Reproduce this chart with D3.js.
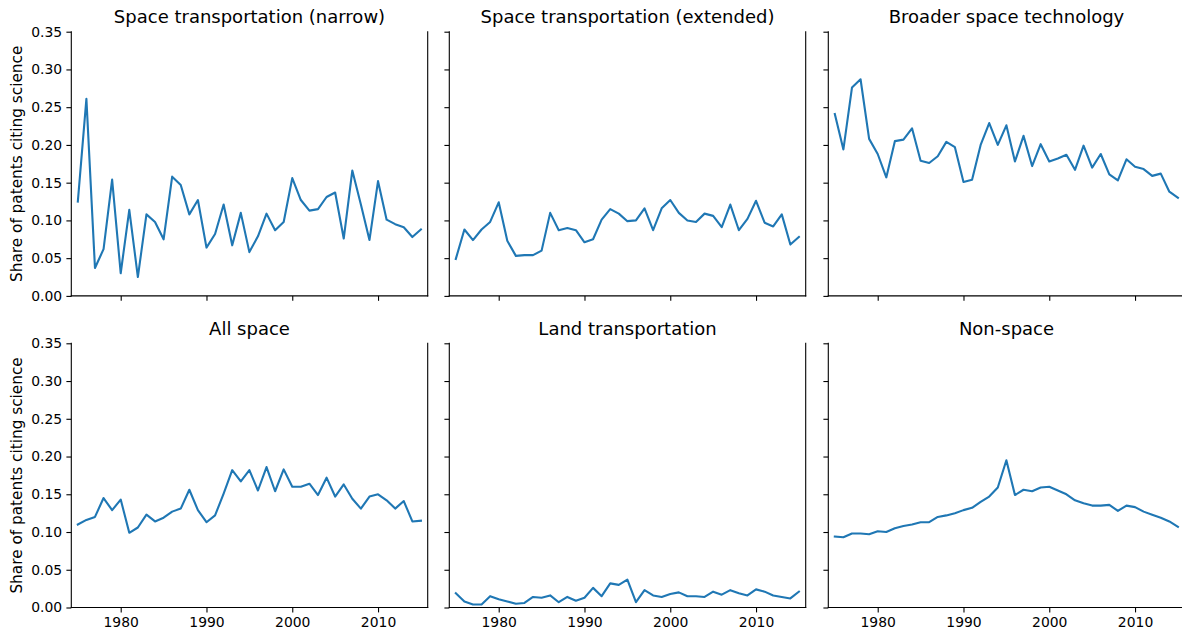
<!DOCTYPE html>
<html>
<head>
<meta charset="utf-8">
<script src="https://cdn.jsdelivr.net/npm/d3@7"></script>
<style>
  html, body { margin: 0; padding: 0; background: #fff; }
  svg { display: block; font-family: "DejaVu Sans", sans-serif; }
</style>
</head>
<body>
<svg id="chart" width="1182" height="632"></svg>
<script>
// Years covered by every series
const years = d3.range(1975, 2016);

// Share of patents citing science, one array per technology group
const spaceNarrow = [0.125,0.261,0.037,0.062,0.154,0.030,0.114,0.025,0.108,0.098,0.075,0.158,0.147,0.108,0.127,0.064,0.082,0.121,0.067,0.110,0.058,0.079,0.109,0.087,0.098,0.156,0.127,0.113,0.115,0.131,0.137,0.076,0.166,0.121,0.074,0.152,0.101,0.095,0.091,0.078,0.088];
const spaceExtended = [0.049,0.088,0.074,0.088,0.098,0.124,0.073,0.053,0.054,0.054,0.060,0.110,0.087,0.090,0.087,0.071,0.075,0.101,0.115,0.109,0.099,0.100,0.116,0.087,0.116,0.127,0.110,0.100,0.098,0.109,0.106,0.091,0.121,0.087,0.102,0.126,0.097,0.092,0.108,0.068,0.078];
const broaderSpace = [0.241,0.194,0.276,0.287,0.208,0.188,0.157,0.205,0.207,0.222,0.179,0.176,0.185,0.204,0.197,0.151,0.154,0.200,0.229,0.200,0.226,0.178,0.212,0.172,0.201,0.178,0.182,0.187,0.167,0.199,0.170,0.188,0.161,0.153,0.181,0.171,0.168,0.159,0.162,0.138,0.130];
const allSpace = [0.110,0.116,0.120,0.145,0.129,0.143,0.099,0.106,0.123,0.114,0.119,0.127,0.131,0.156,0.129,0.113,0.122,0.151,0.182,0.167,0.182,0.155,0.186,0.154,0.183,0.160,0.160,0.164,0.149,0.172,0.147,0.163,0.144,0.131,0.147,0.150,0.142,0.131,0.141,0.114,0.115];
const landTransport = [0.019,0.008,0.004,0.004,0.015,0.011,0.008,0.005,0.006,0.014,0.013,0.016,0.007,0.014,0.009,0.013,0.026,0.015,0.032,0.030,0.037,0.007,0.023,0.016,0.014,0.018,0.020,0.015,0.015,0.014,0.021,0.017,0.023,0.019,0.016,0.024,0.021,0.016,0.014,0.012,0.021];
const nonSpace = [0.094,0.093,0.098,0.098,0.097,0.101,0.100,0.105,0.108,0.110,0.113,0.113,0.120,0.122,0.125,0.129,0.132,0.140,0.147,0.159,0.195,0.149,0.156,0.154,0.159,0.160,0.155,0.150,0.142,0.138,0.135,0.135,0.136,0.128,0.135,0.133,0.127,0.123,0.119,0.114,0.107];

const panelTitles = ["Space transportation (narrow)", "Space transportation (extended)", "Broader space technology", "All space", "Land transportation", "Non-space"];
const panelSeries = [spaceNarrow, spaceExtended, broaderSpace, allSpace, landTransport, nonSpace];

const xTicks = [1980, 1990, 2000, 2010];
const yTicks = [0, 0.05, 0.10, 0.15, 0.20, 0.25, 0.30, 0.35];
const yLabel = "Share of patents citing science";

// Grid geometry
const colLeft = [71.3, 449.3, 828.3];
const rowTop = [31.7, 343.3];
const panelW = 356.4;
const panelH = 264.2;

const svg = d3.select("#chart");
const lineColor = "#1f77b4";
const fontTick = 13.9;
const fontLabel = 15.3;
const fontTitle = 18;

panelSeries.forEach((series, i) => {
  const col = i % 3, row = Math.floor(i / 3);
  const g = svg.append("g").attr("transform", `translate(${colLeft[col]},${rowTop[row]})`);

  const x = d3.scaleLinear().domain([1974.24, 2015.79]).range([0, panelW]);
  const y = d3.scaleLinear().domain([0, 0.35]).range([panelH, 0]);

  // Data line
  const line = d3.line().x((d, k) => x(years[k])).y(d => y(d));
  g.append("path")
    .datum(series)
    .attr("d", line)
    .attr("fill", "none")
    .attr("stroke", lineColor)
    .attr("stroke-width", 2.1)
    .attr("stroke-linejoin", "round")
    .attr("stroke-linecap", "square");

  // Bottom axis
  const xAxis = d3.axisBottom(x).tickValues(xTicks).tickSize(4.9).tickPadding(4.2)
    .tickFormat(row === 1 ? d3.format("d") : () => "");
  const gx = g.append("g").attr("transform", `translate(0,${panelH})`).call(xAxis);

  // Left axis
  const yAxis = d3.axisLeft(y).tickValues(yTicks).tickSize(4.9).tickPadding(4.2)
    .tickFormat(col === 0 ? d3.format(".2f") : () => "");
  const gy = g.append("g").call(yAxis);

  [gx, gy].forEach(a => {
    a.select(".domain").remove();
    a.selectAll(".tick line").attr("stroke", "#000").attr("stroke-width", 1.1);
    a.selectAll(".tick text").attr("font-size", fontTick).attr("fill", "#000")
      .attr("font-family", "DejaVu Sans, sans-serif");
  });
  gx.selectAll(".tick text").attr("dy", "0.72em");

  // Spines: left, bottom and right
  const spine = [[0, 0, 0, panelH], [0, panelH, panelW, panelH], [panelW, 0, panelW, panelH]];
  spine.forEach(s => {
    g.append("line")
      .attr("x1", s[0]).attr("y1", s[1]).attr("x2", s[2]).attr("y2", s[3])
      .attr("stroke", "#000").attr("stroke-width", 1.1).attr("stroke-linecap", "square");
  });

  // Title
  g.append("text")
    .attr("x", panelW / 2).attr("y", -8.3)
    .attr("text-anchor", "middle")
    .attr("font-size", fontTitle)
    .attr("fill", "#000")
    .text(panelTitles[i]);

  // Y axis label on the first column
  if (col === 0) {
    g.append("text")
      .attr("transform", `translate(${-49.8},${panelH / 2}) rotate(-90)`)
      .attr("text-anchor", "middle")
      .attr("font-size", fontLabel)
      .attr("fill", "#000")
      .text(yLabel);
  }
});
</script>
</body>
</html>
